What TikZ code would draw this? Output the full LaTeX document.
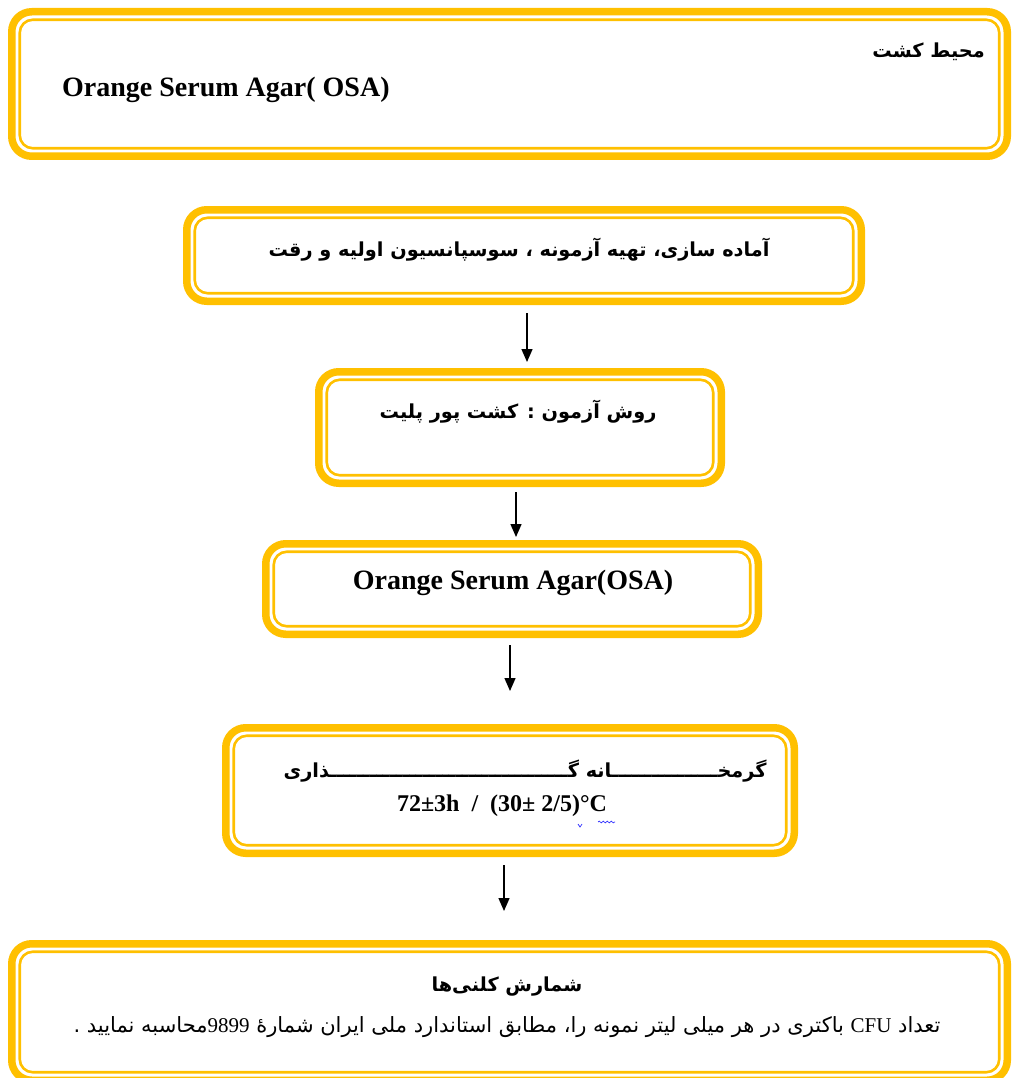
\documentclass[tikz,border=0pt]{standalone}
\usepackage{fontspec}
\setmainfont{Liberation Serif}
\newfontfamily\arabicfont[Script=Arabic]{DejaVu Sans}
\TeXXeTstate=1
\usetikzlibrary{calc,arrows.meta,decorations.pathmorphing}
\definecolor{gold}{HTML}{FFC000}
\tikzset{
 box/.style={draw=gold, line width=7.5pt, rounded corners=20pt, inner sep=0pt, outer sep=0pt},
 inbox/.style={draw=gold, line width=2.6pt, rounded corners=13pt},
 arr/.style={line width=1.4pt, -{Triangle[length=13pt,width=11pt]}},
 txt/.style={inner sep=0pt},
 lat/.style={txt, font=\fontsize{28}{32}\selectfont\bfseries},
 latsm/.style={txt, font=\fontsize{24}{28}\selectfont\bfseries},
 fa/.style={txt, font=\arabicfont\fontsize{19.3}{24}\selectfont\bfseries},
 fareg/.style={txt, font=\arabicfont\fontsize{21}{24}\selectfont}
}
\newcommand\gbox[5]{%
 \pgfmathsetmacro\gw{#4-#2-7.5}\pgfmathsetmacro\gh{#5-#3-7.5}%
 \pgfmathsetmacro\gx{(#2+#4)/2}\pgfmathsetmacro\gy{(#3+#5)/2}%
 \node[box, minimum width=\gw pt, minimum height=\gh pt] (#1) at (\gx,\gy) {};
 \draw[inbox] ($(#1.north west)+(8,8)$) rectangle ($(#1.south east)+(-8,-8)$);}
\begin{document}
\begin{tikzpicture}[x=1pt,y=-1pt]
\useasboundingbox[fill=white] (0,0) rectangle (1012,1078);
\gbox{b1}{8}{8}{1011}{160}
\gbox{b2}{183}{206}{865}{305}
\gbox{b3}{315}{368}{725}{487}
\gbox{b4}{262}{540}{762}{638}
\gbox{b5}{222}{724}{798}{857}
\gbox{b6}{8}{940}{1011}{1084}
% texts
\node[fa, anchor=east] (t1a) at (985,52) {\beginR محیط کشت\endR};
\node[lat, anchor=west] (t1b) at (62,90) {Orange Serum Agar( OSA)};
\node[fa] (t2) at (519,250) {\beginR آماده سازی، تهیه آزمونه ، سوسپانسیون اولیه و رقت\endR};
\node[fa] (t3) at (518,412) {\beginR روش آزمون : کشت پور پلیت\endR};
\node[lat] (t4) at (513,583) {Orange Serum Agar(OSA)};
\node[fa] (t5a) at (525,771) {\beginR گرمخــــــــــــــــانه گــــــــــــــــــــــــــــــــــــذاری\endR};
\node[latsm] (t5b) at (502,806) {72±3h \ /\ \ (30± 2/5)°C};
\node[fa] (t6a) at (507,987) {\beginR شمارش کلنی‌ها\endR};
\node[fareg] (t6b) at (507,1027) {\beginR تعداد {\rmfamily CFU} باکتری در هر میلی لیتر نمونه را، مطابق استاندارد ملی ایران شمارهٔ \beginL{\rmfamily 9899}\endL محاسبه نمایید .\endR};
% spell-check marks
\draw[blue!80, line width=0.7pt, decorate, decoration={snake, amplitude=0.9pt, segment length=4pt}] (598,822) -- (615,822);
\draw[blue!80, line width=0.7pt] (578,824) -- (580,827) -- (582,824);
% arrows
\draw[arr] ($(b2.south)+(3,11.75)$) -- ($(b3.north -| b2.south)+(3,-9.75)$);
\draw[arr] ($(b3.south)+(-4,8.75)$) -- ($(b4.north -| b3.south)+(-4,-6.75)$);
\draw[arr] ($(b4.south)+(-2,10.75)$) -- ($(b5.north -| b4.south)+(-2,-36.75)$);
\draw[arr] ($(b5.south)+(-6,11.75)$) -- ($(b6.north -| b5.south)+(-6,-32.75)$);
\end{tikzpicture}
\end{document}
